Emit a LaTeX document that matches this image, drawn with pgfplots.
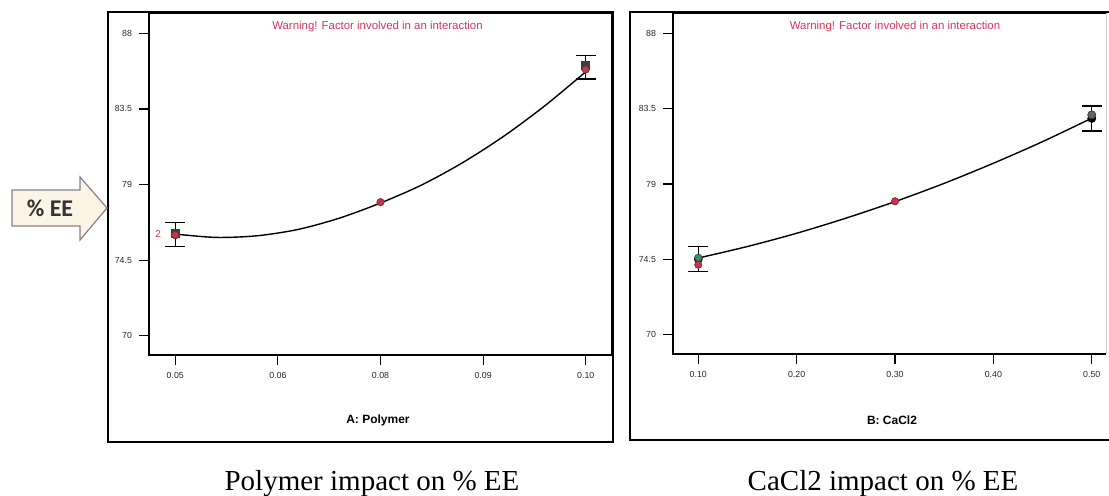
\documentclass[border=0pt]{standalone}
\usepackage{pgfplots}
\pgfplotsset{compat=1.18}
\usepackage{fontspec}
\setmainfont{Liberation Serif}
\setsansfont{Liberation Sans}
\newfontfamily\carlito{Carlito}
\definecolor{warn}{RGB}{220,50,85}
\definecolor{ptred}{RGB}{196,56,76}
\definecolor{ptgreen}{RGB}{60,140,110}
\definecolor{ptdark}{RGB}{60,60,60}
\definecolor{arrowfill}{RGB}{252,244,228}
\definecolor{arrowline}{RGB}{130,130,140}
\begin{document}
\begin{tikzpicture}
\useasboundingbox (0,0) rectangle (554.5pt,-247.5pt);
\pgfplotsset{
 myaxis/.style={
  scale only axis, anchor=south west,
  axis line style={line width=0.75pt},
  tick align=outside, xtick pos=bottom, ytick pos=left,
  major tick length=5pt,
  tick style={line width=0.6pt, black},
  ymin=68.85, ymax=89.21,
  ytick={70,74.5,79,83.5,88}, yticklabels={70,74.5,79,83.5,88},
  tick label style={font=\sffamily\fontsize{4.4}{5}\selectfont, text=black!85},
  /pgf/number format/assume math mode=true,
  clip=false,
  errb/.style={forget plot, only marks, mark=none,
    error bars/.cd, y dir=both, y explicit,
    error bar style={black, line width=0.6pt},
    error mark options={rotate=90, mark size=5pt, line width=0.6pt, black}},
 }
}
% ---------- left panel ----------
\begin{axis}[myaxis, at={(74.5pt,-177.5pt)}, width=231.5pt, height=171pt,
  xmin=0.0468, xmax=0.1032,
  xtick={0.05,0.0625,0.075,0.0875,0.10}, xticklabels={0.05,0.06,0.08,0.09,0.10}]
\addplot[errb] coordinates {(0.05,76.015) +- (0,0.715) (0.10,85.975) +- (0,0.695)};
\addplot[smooth, black, line width=0.7pt] coordinates {
 (0.050,76.05) (0.055,75.85) (0.060,75.95) (0.065,76.33) (0.070,77.0)
 (0.075,77.9) (0.080,78.97) (0.085,80.3) (0.090,81.87) (0.095,83.68) (0.100,85.71)};
\addplot[only marks, mark=square*, mark size=2pt, mark options={fill=ptdark, draw=ptdark}] coordinates {(0.10,86.1) (0.05,76.1)};
\addplot[only marks, mark=*, mark size=1.8pt, mark options={fill=ptred, draw=ptred!70!black}] coordinates {(0.05,76.0) (0.075,77.95) (0.10,85.85)};
\node[text=ptred, font=\sffamily\fontsize{5}{6}\selectfont, anchor=east] at (axis cs:0.0491,76.05) {2};
\end{axis}
% ---------- right panel ----------
\begin{axis}[myaxis, at={(336.5pt,-177pt)}, width=216.5pt, height=170.5pt,
  xmin=0.0743, xmax=0.5145,
  axis line style={draw=none},
  xtick={0.1,0.2,0.3,0.4,0.5}, xticklabels={0.10,0.20,0.30,0.40,0.50}]
\draw[line width=0.75pt] (rel axis cs:0,1) -- (rel axis cs:0,0) -- (rel axis cs:1,0);
\draw[line width=0.75pt] (rel axis cs:0,1) -- (rel axis cs:1,1);
\draw[gray!40, line width=0.5pt] (rel axis cs:1,0) -- (rel axis cs:1,1);
\addplot[errb] coordinates {(0.10,74.525) +- (0,0.745) (0.50,82.915) +- (0,0.745)};
\addplot[smooth, black, line width=0.7pt] coordinates {
 (0.10,74.58) (0.15,75.27) (0.20,76.06) (0.25,76.96) (0.30,77.95)
 (0.35,79.04) (0.40,80.24) (0.45,81.53) (0.50,82.93)};
\addplot[only marks, mark=*, mark size=1.8pt, mark options={fill=ptred, draw=ptred!70!black}] coordinates {(0.10,74.18) (0.30,77.97)};
\addplot[only marks, mark=*, mark size=1.8pt, mark options={fill=ptgreen, draw=ptgreen!70!black}] coordinates {(0.10,74.6)};
\addplot[only marks, mark=*, mark size=2pt, mark options={fill=ptdark!80, draw=ptdark}] coordinates {(0.50,83.13)};
\end{axis}
% ---------- annotations (pixel units) ----------
\begin{scope}[x=0.5pt, y=-0.5pt]
\draw[line width=1pt] (108,12) rectangle (613,442);
\draw[line width=1pt] (1109,12) -- (630,12) -- (630,440) -- (1109,440);
\node[text=warn, font=\sffamily\fontsize{5.7}{6}\selectfont] at (377.5,27) {Warning! Factor involved in an interaction};
\node[text=warn, font=\sffamily\fontsize{5.7}{6}\selectfont] at (895,27) {Warning! Factor involved in an interaction};
\node[font=\sffamily\bfseries\fontsize{6}{7}\selectfont] at (378,420) {A: Polymer};
\node[font=\sffamily\bfseries\fontsize{6}{7}\selectfont] at (892,420) {B: CaCl2};
\node[font=\fontsize{14.5}{16}\selectfont, anchor=base] at (372,490) {Polymer impact on \% EE};
\node[font=\fontsize{14.5}{16}\selectfont, anchor=base] at (883,490) {CaCl2 impact on \% EE};
\draw[arrowline, line width=0.6pt, fill=arrowfill] (12,190) -- (80,190) -- (80,177) -- (107,208) -- (80,240) -- (80,226) -- (12,226) -- cycle;
\node[font=\carlito\bfseries\fontsize{12}{14}\selectfont, text=black!80] at (50,208) {\% EE};
\end{scope}
\end{tikzpicture}
\end{document}
